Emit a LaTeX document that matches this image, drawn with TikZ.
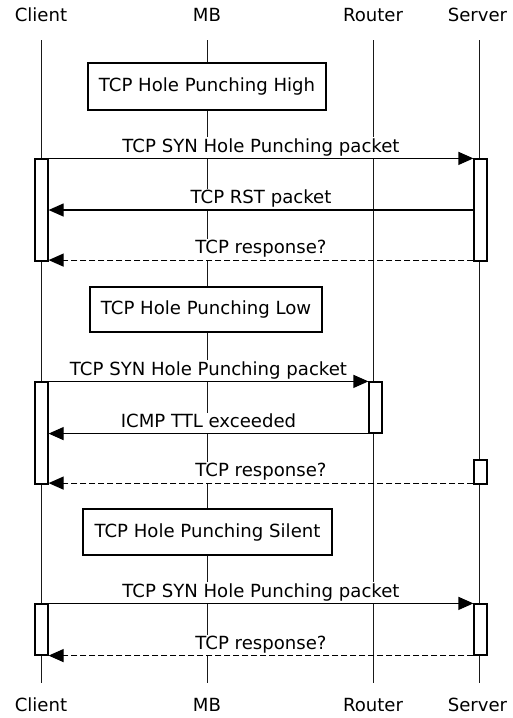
\documentclass[tikz,border=0pt]{standalone}
\usepackage{fontspec}
\setmainfont{DejaVu Sans}
\usetikzlibrary{arrows.meta}
\begin{document}
\begin{tikzpicture}[x=1pt,y=-1pt,
  every node/.style={font=\fontsize{18.1}{21}\selectfont},
  actor/.style={anchor=base, inner sep=0pt},
  life/.style={line width=1pt, draw=black!90},
  note/.style={draw, line width=1.2pt, fill=white, inner sep=0pt},
  act/.style={draw, line width=1.2pt, fill=white, inner sep=0pt, minimum width=13pt},
  lbl/.style={above, fill=white, inner sep=1.2pt, text height=13.5pt, text depth=4.5pt, behind path},
  msg/.style={line width=1.2pt, -{Triangle[length=15pt,width=13pt]}},
  ret/.style={msg, dash pattern=on 6pt off 3pt},
]
\useasboundingbox (0,0) rectangle (512,718);
% actors
\node[actor] (cT) at (41,21) {Client};
\node[actor] (mT) at (207,21) {MB};
\node[actor] (rT) at (373,21) {Router};
\node[actor] (sT) at (477.5,21) {Server};
\node[actor] (cB) at (41,711.5) {Client};
\node[actor] (mB) at (207,711.5) {MB};
\node[actor] (rB) at (373,711.5) {Router};
\node[actor] (sB) at (477.5,711.5) {Server};
% lifelines
\coordinate (c0) at (41,40);  \coordinate (c9) at (41,683);
\coordinate (m0) at (207,40); \coordinate (m9) at (207,683);
\coordinate (r0) at (373,40); \coordinate (r9) at (373,683);
\coordinate (s0) at (479,40); \coordinate (s9) at (479,683);
\draw[life] (c0) -- (c9);
\draw[life] (m0) -- (m9);
\draw[life] (r0) -- (r9);
\draw[life] (s0) -- (s9);
% notes
\node[note, minimum width=238pt, minimum height=47pt] (n1) at (207,86.5) {TCP Hole Punching High};
\node[note, minimum width=232pt, minimum height=45pt] (n2) at (206,309.5) {TCP Hole Punching Low};
\node[note, minimum width=249pt, minimum height=46pt] (n3) at (207.5,532) {TCP Hole Punching Silent};
% activations
\node[act, minimum height=102pt] (c1) at (41.5,210) {};
\node[act, minimum height=102pt] (s1) at (480.5,210) {};
\node[act, minimum height=102pt] (c2) at (41.5,433) {};
\node[act, minimum height=51pt] (r2) at (375.5,407.5) {};
\node[act, minimum height=24pt] (s2) at (480.5,472) {};
\node[act, minimum height=51pt] (c3) at (41.5,629.5) {};
\node[act, minimum height=51pt] (s3) at (480.5,629.5) {};
% messages
\draw[msg] (c1.north east) -- node[lbl] {TCP SYN Hole Punching packet} (s1.north west);
\draw[msg] (s1.west |- 0,210) -- node[lbl] {TCP RST packet} (c1.east |- 0,210);
\draw[ret] ([yshift=1.5pt]s1.south west) -- node[lbl] {TCP response?} ([yshift=1.5pt]c1.south east);
\draw[msg] (c2.north east) -- node[lbl] {TCP SYN Hole Punching packet} (r2.north west);
\draw[msg] (r2.south west) -- node[lbl] {ICMP TTL exceeded} (c2.east |- r2.south west);
\draw[ret] ([yshift=1.5pt]s2.south west) -- node[lbl] {TCP response?} ([yshift=1.5pt]c2.south east);
\draw[msg] (c3.north east) -- node[lbl] {TCP SYN Hole Punching packet} (s3.north west);
\draw[ret] (s3.south west) -- node[lbl] {TCP response?} (c3.south east);
\end{tikzpicture}
\end{document}
